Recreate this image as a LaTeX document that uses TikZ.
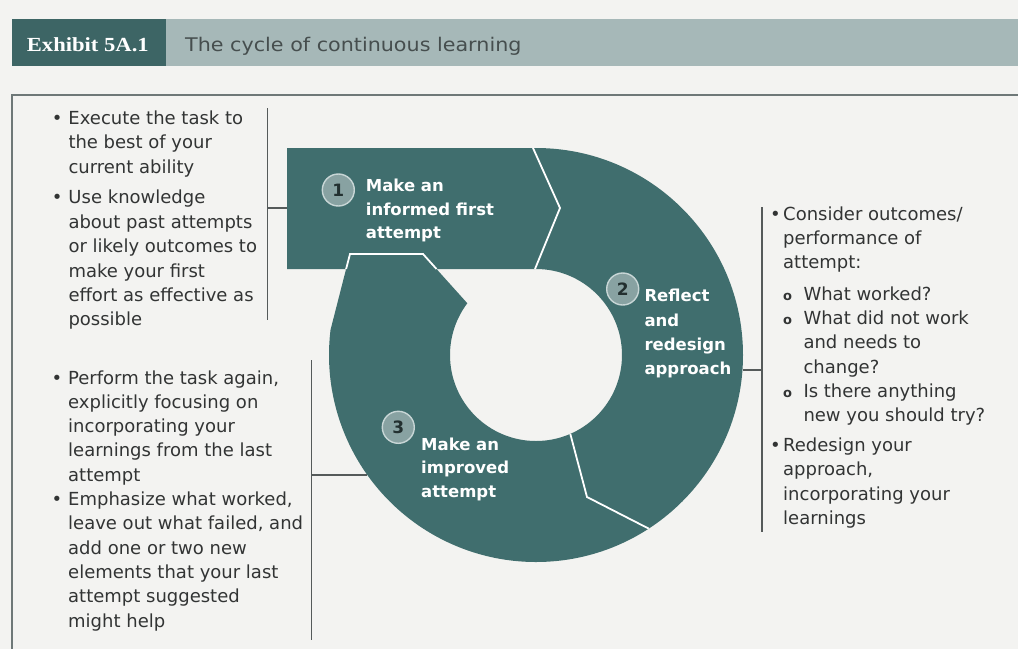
\documentclass[tikz,border=0pt]{standalone}
\usepackage{fontspec}
\usepackage{graphicx}
\setmainfont{DejaVu Sans}
\newfontfamily\hdserif{Liberation Serif}
\definecolor{bgc}{RGB}{243,243,241}
\definecolor{teal}{RGB}{64,110,110}
\definecolor{hdlight}{RGB}{166,184,184}
\definecolor{hddark}{RGB}{61,101,101}
\definecolor{titlegray}{RGB}{70,78,78}
\definecolor{framec}{RGB}{110,120,120}
\definecolor{numfill}{RGB}{136,162,162}
\definecolor{numdraw}{RGB}{200,214,214}
\definecolor{numtext}{RGB}{35,48,48}
\definecolor{bodytext}{RGB}{50,52,52}
\definecolor{linec}{RGB}{85,90,90}
\newcommand\bL{\llap{•\hspace{6pt}}}
\newcommand\bR{\llap{•\hspace{2.5pt}}}
\newcommand\bS{\hspace*{20.3pt}\llap{{\bfseries\fontsize{13}{13}\selectfont o}\hspace{11.5pt}}}
\newcommand\cS{\hspace*{20.3pt}}
\tikzset{
  divider/.style={draw=white, line width=1.8pt, line join=miter},
  numc/.style={circle, fill=numfill, draw=numdraw, line width=1.4pt, minimum size=32pt, inner sep=0pt,
    text=numtext, font=\bfseries\fontsize{17}{17}\selectfont},
  lab/.style={anchor=north west, inner sep=0pt, align=left, text=white},
  col/.style={anchor=north west, inner sep=0pt, align=left, text=bodytext},
  bracket/.style={draw=linec, line width=1.1pt},
}
\begin{document}
\begin{tikzpicture}[x=1pt,y=-1pt]
\useasboundingbox (0,0) rectangle (1018,649);
\fill[bgc] (0,0) rectangle (1018,649);
% header
\fill[hdlight] (12,18.5) rectangle (1018,65.5);
\fill[hddark] (12,18.5) rectangle (166,65.5);
\node[anchor=base west, inner sep=0pt, text=white] (exh) at (26.7,51)
  {\scalebox{1.13}[1]{\hdserif\bfseries\fontsize{20}{20}\selectfont Exhibit 5A.1}};
\node[anchor=base west, inner sep=0pt, text=titlegray] (title) at (185,51.5)
  {\scalebox{1.1}[1]{\fontsize{18.8}{18.8}\selectfont The cycle of continuous learning}};
% frame
\draw[framec, line width=1.4pt] (1018,95) -- (12,95) -- (12,649);
% cycle shape
\coordinate (C) at (536,355);
\fill[teal, even odd rule]
  (287,148) -- (536,148) arc[start angle=-90, end angle=187, radius=207]
  -- (346.1,269) -- (287,269) -- cycle
  (436.5,269) -- (536,269) arc[start angle=-90, end angle=217, radius=86] -- cycle;
\draw[divider] (533,148) -- (560,208) -- (535,269);
\draw[divider] (570.3,433.9) -- (587,497) -- (648.7,528.6);
\draw[divider] (346.1,269) -- (350,254) -- (423,254) -- (436.5,269);
% numbers
\node[numc] (n1) at (338.3,190) {1};
\node[numc] (n2) at (622.7,289) {2};
\node[numc] (n3) at (398.3,427.3) {3};
% labels
\node[lab, font=\bfseries\fontsize{16.5}{23.5}\selectfont] (l1) at (365.7,177.7)
  {\rule{0pt}{14pt}Make an\\informed first\\attempt};
\node[lab, font=\bfseries\fontsize{16.5}{24.2}\selectfont] (l2) at (644.3,287.7)
  {\rule{0pt}{14pt}Reflect\\and\\redesign\\approach};
\node[lab, font=\bfseries\fontsize{16.5}{23.7}\selectfont] (l3) at (421,436)
  {\rule{0pt}{14pt}Make an\\improved\\attempt};
% text columns
\node[col, font=\fontsize{18}{24.4}\selectfont] (t1) at (68.3,109.3)
  {\rule{0pt}{15pt}\bL Execute the task to\\the best of your\\current ability\\[6.2pt]
   \bL Use knowledge\\about past attempts\\or likely outcomes to\\make your first\\effort as effective as\\possible};
\node[col, font=\fontsize{18}{24.3}\selectfont] (t2) at (783,204.8)
  {\rule{0pt}{15pt}\bR Consider outcomes/\\performance of\\attempt:\\[7.3pt]
   \bS What worked?\\\bS What did not work\\\cS and needs to\\\cS change?\\
   \bS Is there anything\\\cS new you should try?\\[5.6pt]
   \bR Redesign your\\approach,\\incorporating your\\learnings};
\node[col, font=\fontsize{18}{24.3}\selectfont] (t3) at (68,368.8)
  {\rule{0pt}{15pt}\bL Perform the task again,\\explicitly focusing on\\incorporating your\\learnings from the last\\attempt\\
   \bL Emphasize what worked,\\leave out what failed, and\\add one or two new\\elements that your last\\attempt suggested\\might help};
% brackets
\coordinate (a1) at (267.7,108); \coordinate (a2) at (267.7,320);
\coordinate (a3) at (267.7,208); \coordinate (s1) at (287,208);
\coordinate (b1) at (762,207); \coordinate (b2) at (762,532);
\coordinate (b3) at (762,370); \coordinate (s2) at (742.5,370);
\coordinate (c1) at (311.7,360); \coordinate (c2) at (311.7,640);
\coordinate (c3) at (311.7,475); \coordinate (s3) at (367,475);
\draw[bracket] (a1) -- (a2); \draw[bracket] (a3) -- (s1);
\draw[bracket] (b1) -- (b2); \draw[bracket] (s2) -- (b3);
\draw[bracket] (c1) -- (c2); \draw[bracket] (c3) -- (s3);
\end{tikzpicture}
\end{document}
